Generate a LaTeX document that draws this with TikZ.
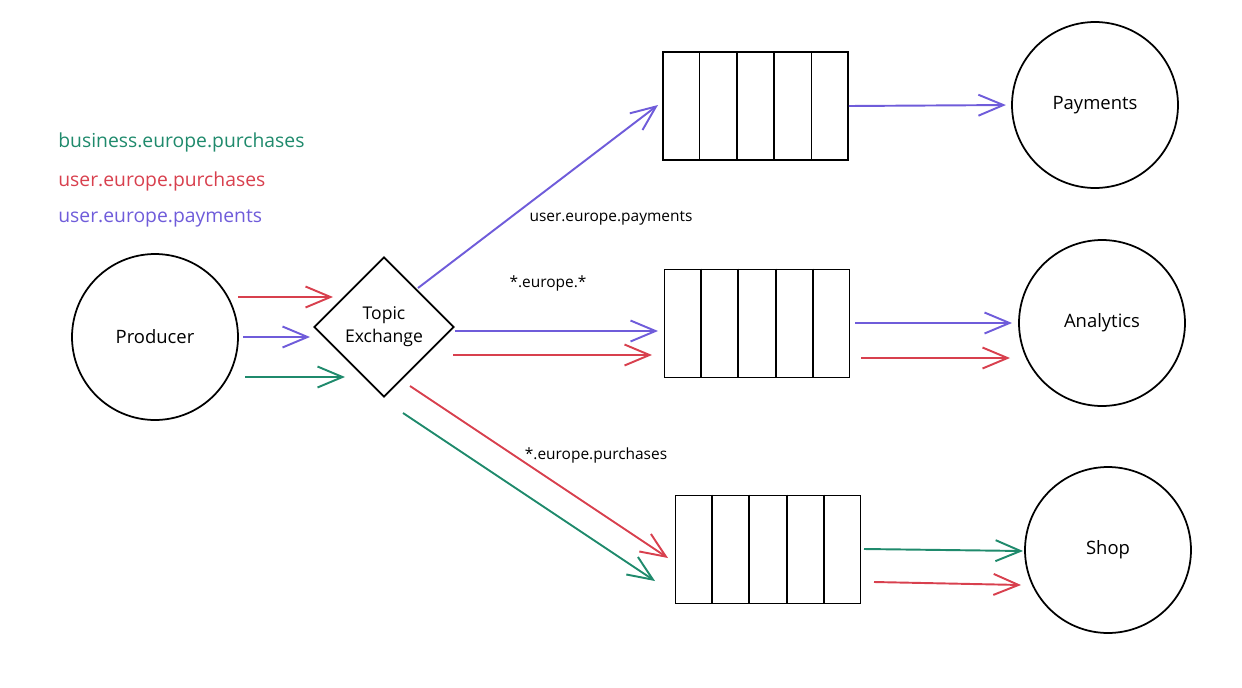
\documentclass[tikz,border=0pt]{standalone}
\usepackage{fontspec}
\setmainfont{Open Sans}
\usetikzlibrary{arrows.meta,shapes.geometric,calc}
\definecolor{cgreen}{HTML}{1F8A6C}
\definecolor{cred}{HTML}{D8404E}
\definecolor{cpurple}{HTML}{6F5CDA}
\begin{document}
\begin{tikzpicture}[x=0.02cm,y=-0.02cm,
  circ/.style={circle,draw,line width=1pt,minimum size=3.32cm,inner sep=0pt,font=\fontsize{10.5}{12}\selectfont},
  queuebox/.style={draw,line width=1pt,minimum width=3.7cm,minimum height=2.16cm,inner sep=0pt},
  exch/.style={diamond,draw,line width=1pt,aspect=1,minimum size=2.8cm,inner sep=0pt,align=center,font=\fontsize{10}{13}\selectfont},
  arr/.style={line width=1.1pt,-{Straight Barb[length=0.5cm,width=0.42cm,line width=1.1pt]}},
  legend/.style={anchor=west,inner sep=0pt,font=\fontsize{11}{13}\selectfont},
  lbl/.style={inner sep=0pt,font=\fontsize{8.8}{10}\selectfont}]
\useasboundingbox (0,0) rectangle (1242,687);
% nodes
\node[circ] (prod) at (155,337) {Producer};
\node[exch] (ex) at (384,327) {Topic\\Exchange};
\node[queuebox] (q1) at (755.5,106) {};
\node[queuebox] (q2) at (757,323.5) {};
\node[queuebox] (q3) at (768,549.5) {};
\foreach \q in {q1,q2,q3}{
  \foreach \i in {1,...,4}{
    \draw[line width=1pt] ($(\q.north west)!\i/5!(\q.north east)$) -- ($(\q.south west)!\i/5!(\q.south east)$);
  }
}
\node[circ] (pay) at (1095,105) {Payments};
\node[circ] (ana) at (1102,323) {Analytics};
\node[circ] (shop) at (1108,550) {Shop};
% legend
\node[legend,text=cgreen] (lg1) at (58,142) {business.europe.purchases};
\node[legend,text=cred] (lg2) at (58,181) {user.europe.purchases};
\node[legend,text=cpurple] (lg3) at (58,218) {user.europe.payments};
% labels
\node[lbl] (l1) at (611,218) {user.europe.payments};
\node[lbl] (l2) at (548,283) {*.europe.*};
\node[lbl] (l3) at (596,455) {*.europe.purchases};
% coordinates for connector ends
\coordinate (pr1) at (238,297); \coordinate (ex1) at (333,297);
\coordinate (pr2) at (243,337); \coordinate (ex2) at (310,337);
\coordinate (pr3) at (245,377); \coordinate (ex3) at (345,377);
\coordinate (ea) at (418,288); \coordinate (q1in) at (658,105);
\coordinate (eb) at (455,331); \coordinate (q2ina) at (658,331);
\coordinate (ec) at (453,355); \coordinate (q2inb) at (652,355);
\coordinate (ed) at (410,386); \coordinate (q3ina) at (668,558);
\coordinate (ee) at (403,413); \coordinate (q3inb) at (655,581);
\coordinate (q2a) at (855,323); \coordinate (ana1) at (1012,323);
\coordinate (q2b) at (861,358); \coordinate (ana2) at (1010,358);
\coordinate (q3a) at (864,549); \coordinate (shop1) at (1023,551);
\coordinate (q3b) at (874,582); \coordinate (shop2) at (1021,585);
% producer -> exchange
\draw[arr,cred] (pr1) -- (ex1);
\draw[arr,cpurple] (pr2) -- (ex2);
\draw[arr,cgreen] (pr3) -- (ex3);
% exchange -> queues
\draw[arr,cpurple] (ea) -- (q1in);
\draw[arr,cpurple] (eb) -- (q2ina);
\draw[arr,cred] (ec) -- (q2inb);
\draw[arr,cred] (ed) -- (q3ina);
\draw[arr,cgreen] (ee) -- (q3inb);
% queues -> consumers
\draw[arr,cpurple,shorten >=3pt] (q1.east) -- (pay.west);
\draw[arr,cpurple] (q2a) -- (ana1);
\draw[arr,cred] (q2b) -- (ana2);
\draw[arr,cgreen] (q3a) -- (shop1);
\draw[arr,cred] (q3b) -- (shop2);
\end{tikzpicture}
\end{document}
